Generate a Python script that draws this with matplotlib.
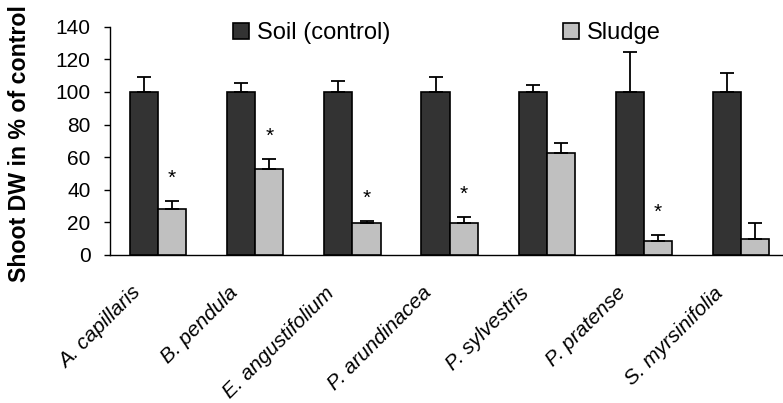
import matplotlib
matplotlib.use("Agg")
import matplotlib.pyplot as plt
import matplotlib.transforms as mtransforms
import numpy as np
from matplotlib.patches import Patch

species = ["A. capillaris", "B. pendula", "E. angustifolium", "P. arundinacea",
           "P. sylvestris", "P. pratense", "S. myrsinifolia"]
control = [100, 100, 100, 100, 100, 100, 100]
control_err = [9, 5.3, 6.7, 9, 4, 24.7, 11.8]
sludge = [28, 52.6, 19.6, 19.6, 62.4, 8.6, 9.8]
sludge_err = [5, 6, 1.3, 3.7, 6, 3.7, 9.8]
significant = [True, True, True, True, False, True, False]
yticks = [0, 20, 40, 60, 80, 100, 120, 140]

plt.rcParams['font.family'] = ['Liberation Sans', 'DejaVu Sans']

fig = plt.figure(figsize=(7.83, 4.03), dpi=100)
ax = fig.add_axes([110/783, 1 - 255/403, 1 - 110/783, (255 - 26.7)/403])

x = np.arange(len(species))
w = 0.29
dark = "#333333"
light = "#c0c0c0"
ekw = dict(ecolor="black", elinewidth=1.3, capsize=4.7, capthick=1.3)
n = len(species)
ax.bar(x - w/2, control, w, color=dark, edgecolor="black", linewidth=1.2,
       yerr=[[0]*n, control_err], error_kw=ekw, zorder=3)
ax.bar(x + w/2, sludge, w, color=light, edgecolor="black", linewidth=1.2,
       yerr=[[0]*n, sludge_err], error_kw=ekw, zorder=3)

for i, s in enumerate(significant):
    if s:
        ax.text(x[i] + w/2, sludge[i] + sludge_err[i] + 10.5, "*", ha="center",
                va="baseline", fontsize=15)

ax.set_xlim(-0.494, 6.43)
ax.set_ylim(0, 140)
ax.set_yticks(yticks)
ax.set_yticklabels([str(t) for t in yticks], fontsize=15)
ax.tick_params(axis="y", direction="out", length=4, width=1, pad=10)
ax.set_xticks(x)
ax.set_xticklabels(species, rotation=45, ha="right", fontsize=15, style="italic")
ax.tick_params(axis="x", length=0, pad=20.5)
offset = mtransforms.ScaledTranslation(-14/100, 0, fig.dpi_scale_trans)
for lbl in ax.get_xticklabels():
    lbl.set_transform(lbl.get_transform() + offset)
for sp in ["top", "right"]:
    ax.spines[sp].set_visible(False)
for sp in ["left", "bottom"]:
    ax.spines[sp].set_linewidth(1)
ax.set_ylabel("Shoot DW in % of control", fontsize=16.7, fontweight="bold")
ax.yaxis.set_label_coords(-0.117, 0.49)

handles = [Patch(facecolor=dark, edgecolor="black", linewidth=1.2),
           Patch(facecolor=light, edgecolor="black", linewidth=1.2)]
fig.legend(handles, ["Soil (control)", "Sludge"], loc="center left",
           bbox_to_anchor=(233/783, 1 - 33/403), ncol=2, frameon=False,
           fontsize=17, handlelength=0.68, handleheight=0.68,
           handletextpad=0.33, columnspacing=7.3, borderpad=0, borderaxespad=0)

fig.savefig("out.png", dpi=100)
